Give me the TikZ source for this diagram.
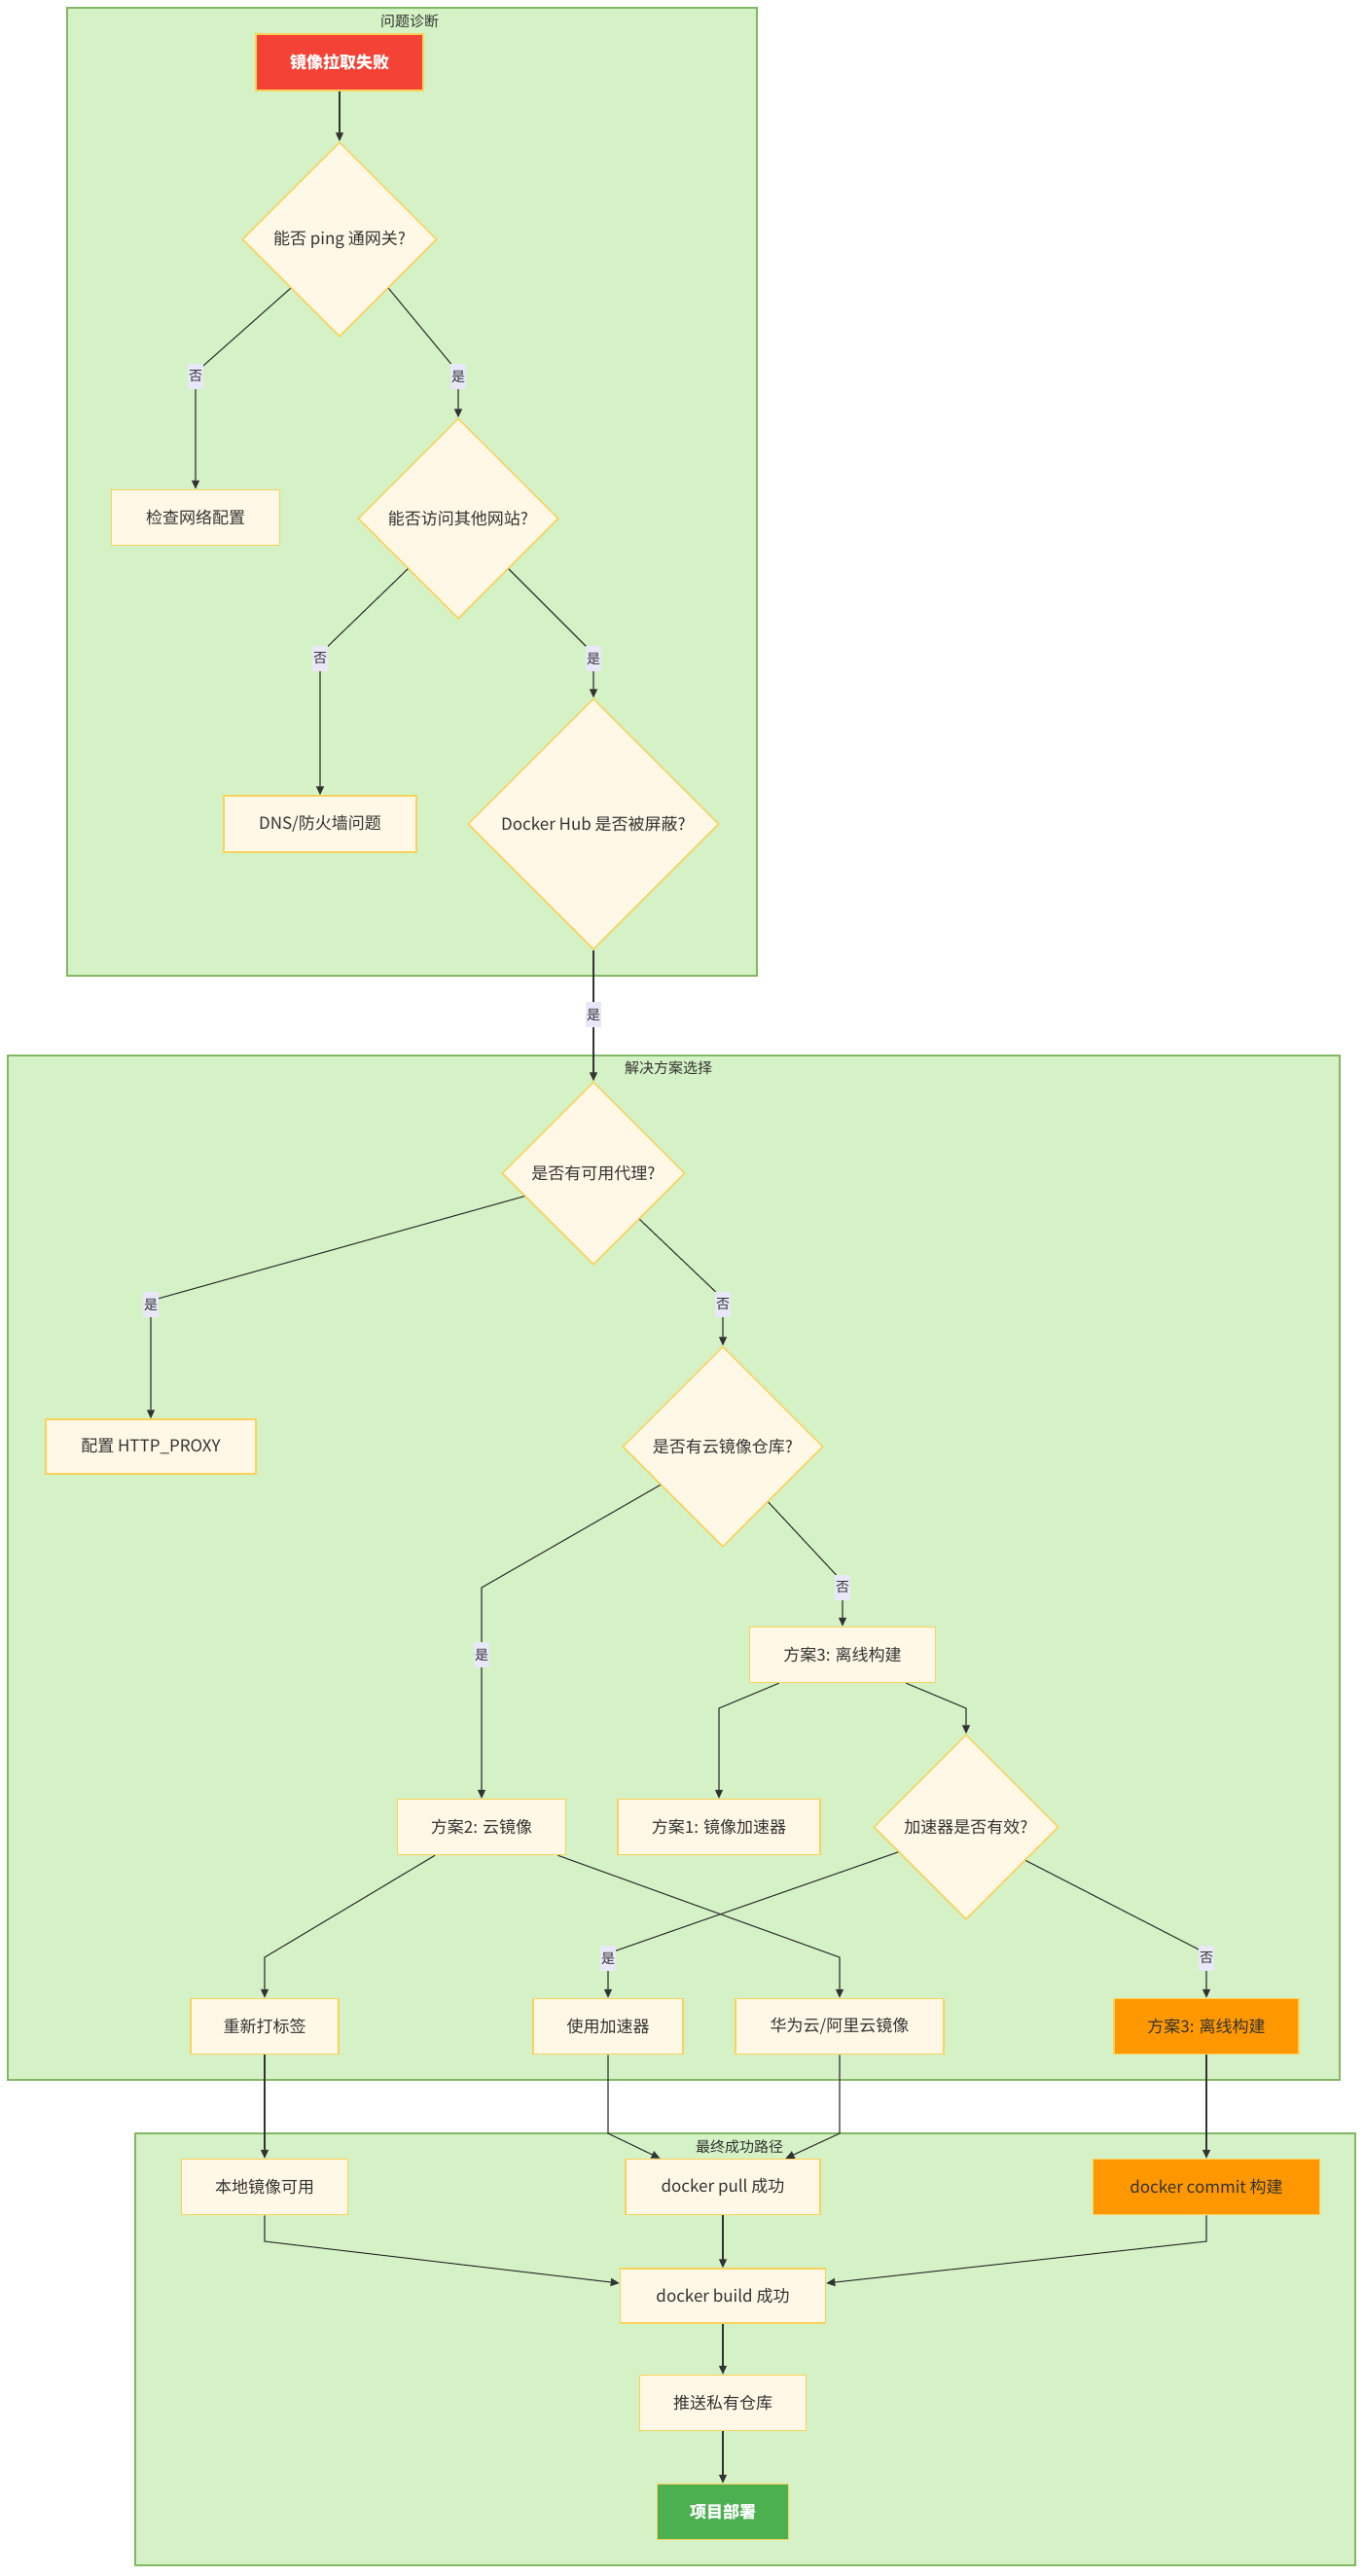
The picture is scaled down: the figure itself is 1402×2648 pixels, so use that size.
\documentclass[tikz,border=0pt]{standalone}
\usepackage{fontspec}
\setmainfont{Noto Sans CJK SC}
\usetikzlibrary{shapes.geometric,arrows.meta,calc}
\definecolor{clfill}{RGB}{212,242,197}
\definecolor{cldraw}{RGB}{130,184,100}
\definecolor{nfill}{RGB}{255,248,230}
\definecolor{ndraw}{RGB}{250,210,90}
\definecolor{txt}{RGB}{51,51,51}
\definecolor{lbl}{RGB}{232,232,250}
\definecolor{redn}{RGB}{244,67,54}
\definecolor{orgn}{RGB}{255,152,0}
\definecolor{grn}{RGB}{76,175,80}
\begin{document}
\begin{tikzpicture}[x=1pt,y=-1pt,
 cluster/.style={draw=cldraw, fill=clfill, line width=1.6pt},
 ctitle/.style={font=\fontsize{15}{18}\selectfont, text=txt, inner sep=0pt},
 box/.style={draw=ndraw, fill=nfill, line width=1.5pt, rectangle, text=txt, font=\fontsize{17}{20}\selectfont, inner sep=0pt, minimum height=57pt},
 dia/.style={draw=ndraw, fill=nfill, line width=1.5pt, diamond, aspect=1, text=txt, font=\fontsize{17}{20}\selectfont, inner sep=0pt},
 lab/.style={fill=lbl, text=txt, font=\fontsize{14}{16}\selectfont, inner sep=1pt, minimum height=26pt, minimum width=15pt},
 edge/.style={draw=txt, line width=1.1pt, -{Triangle[length=9pt,width=8pt]}},
 ]
\useasboundingbox (0,0) rectangle (1402,2648);
\fill[white] (0,0) rectangle (1402,2648);
% clusters
\draw[cluster] (69,8) rectangle (778,1003);
\node[ctitle] (t1) at (421,22) {问题诊断};
\draw[cluster] (8,1085) rectangle (1377,2138);
\node[ctitle] (t2) at (687,1098) {解决方案选择};
\draw[cluster] (139,2193) rectangle (1393,2637);
\node[ctitle] (t3) at (760,2207) {最终成功路径};
% nodes
\node[box, fill=redn, text=white, font=\fontsize{17}{20}\selectfont\bfseries, minimum width=172pt, minimum height=58pt] (A) at (349,64) {镜像拉取失败};
\node[dia, minimum width=200pt, minimum height=200pt] (B) at (349,246) {能否 ping 通网关?};
\node[box, minimum width=173pt] (C) at (201,532) {检查网络配置};
\node[dia, minimum width=206pt, minimum height=206pt] (D) at (471,533) {能否访问其他网站?};
\node[box, minimum width=198pt, minimum height=58pt] (E) at (329,847) {DNS/防火墙问题};
\node[dia, minimum width=258pt, minimum height=258pt] (F) at (610,847) {Docker Hub 是否被屏蔽?};
\node[dia, minimum width=188pt, minimum height=188pt] (G) at (610,1206) {是否有可用代理?};
\node[box, minimum width=216pt, minimum height=56pt] (H) at (155,1487) {配置 HTTP\_PROXY};
\node[dia, minimum width=206pt, minimum height=206pt] (I) at (743,1487) {是否有云镜像仓库?};
\node[box, minimum width=191pt] (K) at (866,1701) {方案3: 离线构建};
\node[box, minimum width=173pt] (J) at (495,1878) {方案2: 云镜像};
\node[box, minimum width=208pt] (L) at (739,1878) {方案1: 镜像加速器};
\node[dia, minimum width=190pt, minimum height=190pt] (M) at (993,1878) {加速器是否有效?};
\node[box, minimum width=152pt] (N) at (272,2083) {重新打标签};
\node[box, minimum width=154pt] (O) at (625,2083) {使用加速器};
\node[box, minimum width=214pt] (P) at (863,2083) {华为云/阿里云镜像};
\node[box, fill=orgn, minimum width=190pt] (Q) at (1240,2083) {方案3: 离线构建};
\node[box, minimum width=171pt] (R) at (272,2248) {本地镜像可用};
\node[box, minimum width=200pt] (S) at (743,2248) {docker pull 成功};
\node[box, fill=orgn, minimum width=233pt] (T) at (1240,2248) {docker commit 构建};
\node[box, minimum width=211pt, minimum height=56pt] (U) at (743,2360) {docker build 成功};
\node[box, minimum width=171pt] (V) at (743,2470) {推送私有仓库};
\node[box, fill=grn, text=white, font=\fontsize{17}{20}\selectfont\bfseries, minimum width=135pt] (W) at (743,2582) {项目部署};
% bend coordinates
\coordinate (bc) at (201,383);
\coordinate (bd) at (471,383);
\coordinate (de) at (329,672);
\coordinate (df) at (610,672);
\coordinate (gh) at (155,1337);
\coordinate (gi) at (743,1335);
\coordinate (ij) at (495,1632);
\coordinate (ik) at (866,1626);
\coordinate (kl) at (739,1756);
\coordinate (km) at (993,1756);
\coordinate (jn) at (272,2012);
\coordinate (jp) at (863,2012);
\coordinate (mo) at (625,2008);
\coordinate (mq) at (1240,2008);
\coordinate (os) at (625,2193);
\coordinate (ps) at (863,2193);
\coordinate (ru) at (272,2304);
\coordinate (tu) at (1240,2304);
% edges
\draw[edge] (A.south) -- (B.north);
\draw[edge] (B.south west) -- (bc) -- (C.north);
\draw[edge] (B.south east) -- (bd) -- (D.north);
\draw[edge] (D.south west) -- (de) -- (E.north);
\draw[edge] (D.south east) -- (df) -- (F.north);
\draw[edge] (F.south) -- (G.north);
\draw[edge] ($(G.west)!0.25!(G.south)$) -- (gh) -- (H.north);
\draw[edge] (G.south east) -- (gi) -- (I.north);
\draw[edge] ($(I.west)!0.38!(I.south)$) -- (ij) -- (J.north);
\draw[edge] ($(I.east)!0.55!(I.south)$) -- (ik) -- (K.north);
\draw[edge] ($(K.south west)!0.16!(K.south east)$) -- (kl) -- (L.north);
\draw[edge] ($(K.south west)!0.84!(K.south east)$) -- (km) -- (M.north);
\draw[edge] ($(J.south west)!0.225!(J.south east)$) -- (jn) -- (N.north);
\draw[edge] ($(J.south west)!0.95!(J.south east)$) -- (jp) -- (P.north);
\draw[edge] ($(M.west)!0.27!(M.south)$) -- (mo) -- (O.north);
\draw[edge] ($(M.east)!0.36!(M.south)$) -- (mq) -- (Q.north);
\draw[edge] (N.south) -- (R.north);
\draw[edge] (O.south) -- (os) -- ($(S.north west)!0.18!(S.north east)$);
\draw[edge] (P.south) -- (ps) -- ($(S.north west)!0.82!(S.north east)$);
\draw[edge] (Q.south) -- (T.north);
\draw[edge] (R.south) -- (ru) -- ($(U.west)+(0,-13)$);
\draw[edge] (T.south) -- (tu) -- ($(U.east)+(0,-13)$);
\draw[edge] (S.south) -- (U.north);
\draw[edge] (U.south) -- (V.north);
\draw[edge] (V.south) -- (W.north);
% edge labels
\node[lab] (l1) at (201,387) {否};
\node[lab] (l2) at (471,387) {是};
\node[lab] (l3) at (329,677) {否};
\node[lab] (l4) at (610,677) {是};
\node[lab] (l5) at (610,1043) {是};
\node[lab] (l6) at (155,1341) {是};
\node[lab] (l7) at (743,1341) {否};
\node[lab] (l8) at (495,1701) {是};
\node[lab] (l9) at (866,1632) {否};
\node[lab] (l10) at (625,2013) {是};
\node[lab] (l11) at (1240,2013) {否};
\end{tikzpicture}
\end{document}
